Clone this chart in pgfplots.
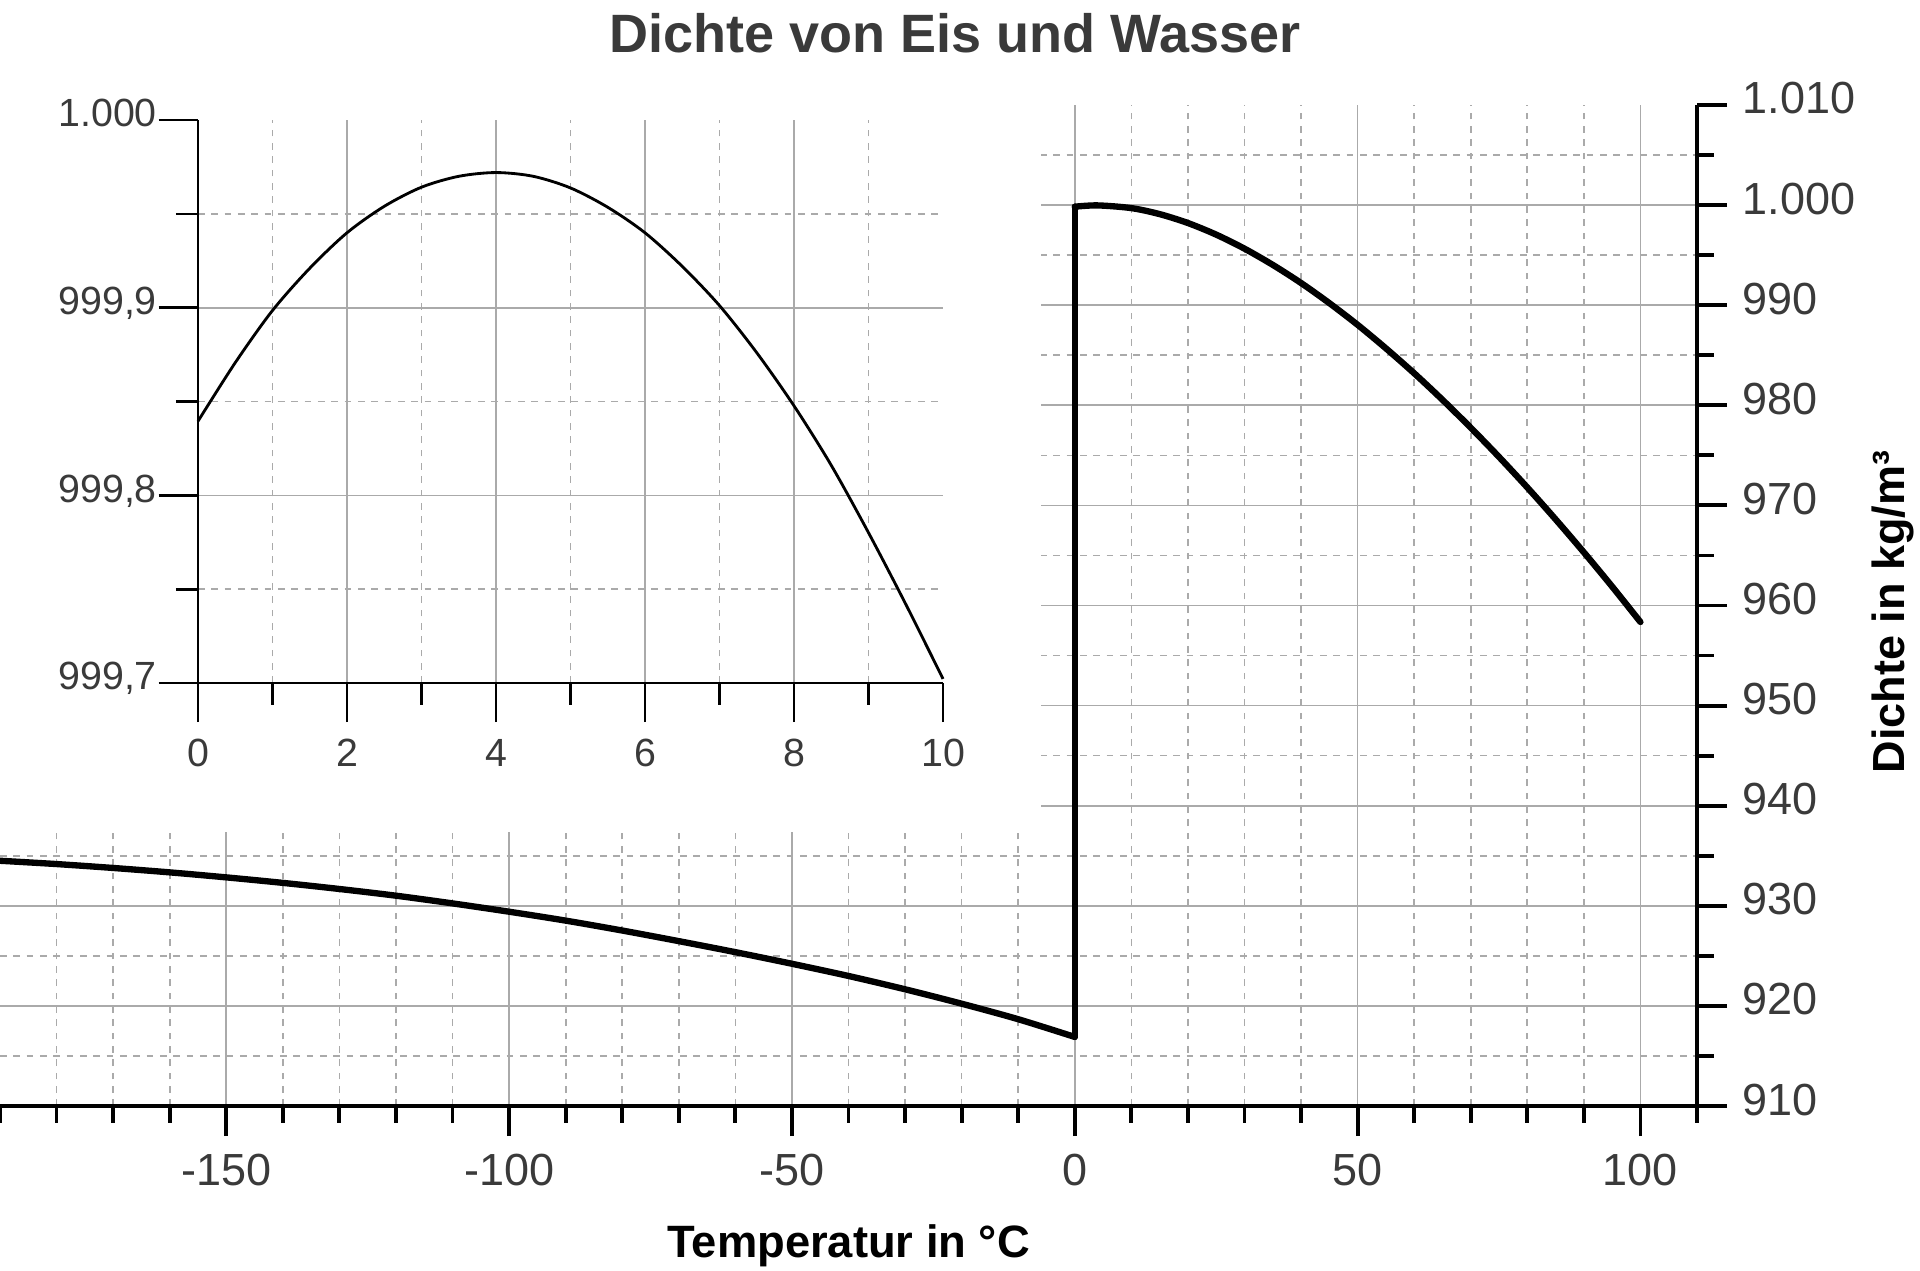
\documentclass[border=0pt]{standalone}
\usepackage{pgfplots}
\pgfplotsset{compat=1.18}
\usepackage{fontspec}
\setmainfont{Liberation Sans}
\definecolor{lbl}{HTML}{3A3A3A}
\definecolor{grd}{HTML}{AAAAAA}
\pgfplotsset{
 gridonly/.style={
  axis x line*=bottom, axis y line*=left,
  axis line style={draw=none}, tick style={draw=none},
  major tick length=0pt, minor tick length=0pt,
  xticklabels={}, yticklabels={},
  grid=both,
  major grid style={grd, line width=0.5pt},
  minor grid style={grd, line width=0.5pt, dash pattern=on 2pt off 2pt},
 }
}
\begin{document}
\begin{tikzpicture}
\path[use as bounding box] (0,0) rectangle (576pt,381pt);
% main grid
\begin{axis}[
 at={(0pt,49.2pt)}, anchor=south west,
 scale only axis, width=509.1pt, height=300.3pt,
 xmin=-190, xmax=110, ymin=910, ymax=1010,
 gridonly,
 xtick={-150,-100,-50,0,50,100},
 minor xtick={-180,-170,-160,-140,-130,-120,-110,-90,-80,-70,-60,-40,-30,-20,-10,10,20,30,40,60,70,80,90},
 ytick={920,930,940,950,960,970,980,990,1000},
 minor ytick={915,925,935,945,955,965,975,985,995,1005},
]
\fill[white] (axis cs:-191,937.4) rectangle (axis cs:-6,1011);
\end{axis}
% main axis
\begin{axis}[
 at={(0pt,49.2pt)}, anchor=south west,
 scale only axis, width=509.1pt, height=300.3pt,
 xmin=-190, xmax=110, ymin=910, ymax=1010,
 axis x line=bottom, axis y line=right,
 axis line style={-, line width=1.15pt, black},
 tick align=outside,
 major tick length=9pt, minor tick length=5pt,
 tick style={line width=1.15pt, black},
 xtick={-150,-100,-50,0,50,100},
 xticklabels={-150,-100,-50,0,50,100},
 minor xtick={-190,-180,-170,-160,-140,-130,-120,-110,-90,-80,-70,-60,-40,-30,-20,-10,10,20,30,40,60,70,80,90,110},
 ytick={910,920,930,940,950,960,970,980,990,1000,1010},
 yticklabels={910,920,930,940,950,960,970,980,990,1.000,1.010},
 minor ytick={915,925,935,945,955,965,975,985,995,1005},
 xticklabel style={font=\fontsize{13.5}{16}\selectfont, text=lbl, anchor=base, yshift=-14.7pt},
 yticklabel style={font=\fontsize{13.5}{16}\selectfont, text=lbl, anchor=base west, xshift=1.2pt, yshift=-2.7pt},
 clip=false,
]
\addplot[black, line width=1.9pt, smooth, line cap=round] coordinates {
(-190,934.50) (-180,934.17) (-170,933.78) (-160,933.34) (-150,932.84) (-140,932.29)
(-130,931.68) (-120,931.01) (-110,930.24) (-100,929.41) (-90,928.52) (-80,927.53)
(-70,926.47) (-60,925.37) (-50,924.21) (-40,922.99) (-30,921.66) (-20,920.22)
(-10,918.67) (0,916.90)
};
\addplot[black, line width=1.9pt, line cap=round] coordinates {(0,916.9) (0,999.84)};
\addplot[black, line width=1.9pt, smooth, line cap=round] coordinates {
(0,999.84) (4,999.97) (10,999.70) (15,999.10) (20,998.21) (25,997.05) (30,995.65)
(35,994.03) (40,992.22) (45,990.21) (50,988.04) (55,985.69) (60,983.20) (65,980.55)
(70,977.76) (75,974.84) (80,971.79) (85,968.61) (90,965.31) (95,961.89) (100,958.35)
};
\end{axis}
% inset grid
\begin{axis}[
 at={(59.4pt,176.1pt)}, anchor=south west,
 scale only axis, width=223.5pt, height=168.9pt,
 xmin=0, xmax=10, ymin=999.7, ymax=1000,
 gridonly,
 xtick={2,4,6,8}, minor xtick={1,3,5,7,9},
 ytick={999.8,999.9}, minor ytick={999.75,999.85,999.95},
]
\end{axis}
% inset axis
\begin{axis}[
 at={(59.4pt,176.1pt)}, anchor=south west,
 scale only axis, width=223.5pt, height=168.9pt,
 xmin=0, xmax=10, ymin=999.7, ymax=1000,
 axis x line=bottom, axis y line=left,
 axis line style={-, line width=0.8pt, black},
 tick align=outside,
 major tick length=11.8pt, minor tick length=6.6pt,
 tick style={line width=0.8pt, black},
 xtick={0,2,4,6,8,10}, xticklabels={0,2,4,6,8,10},
 minor xtick={1,3,5,7,9},
 ytick={999.7,999.8,999.9,1000}, yticklabels={{999,7},{999,8},{999,9},{1.000}},
 minor ytick={999.75,999.85,999.95},
 xticklabel style={font=\fontsize{11.8}{14}\selectfont, text=lbl, anchor=base, yshift=-13.2pt},
 yticklabel style={font=\fontsize{11.8}{14}\selectfont, text=lbl, anchor=base east, xshift=3pt, yshift=-2pt},
 clip=false,
]
\addplot[black, line width=0.85pt, smooth] coordinates {
(0,999.8395) (0.5,999.8707) (1,999.8985) (1.5,999.9210) (2,999.9399) (2.5,999.9540)
(3,999.9642) (3.5,999.9700) (4,999.9720) (4.5,999.9700) (5,999.9638) (5.5,999.9535)
(6,999.9399) (6.5,999.9220) (7,999.9011) (7.5,999.8760) (8,999.8477) (8.5,999.8160)
(9,999.7801) (9.5,999.7420) (10,999.7022)
};
\end{axis}
\node[font=\bfseries\fontsize{16.2}{19}\selectfont, text=lbl] at (286.5pt,371.1pt) {Dichte von Eis und Wasser};
\node[font=\bfseries\fontsize{13.6}{16}\selectfont] at (254.6pt,7.2pt) {Temperatur in °C};
\node[rotate=90, font=\bfseries\fontsize{13.5}{16}\selectfont] at (567.9pt,197.4pt) {Dichte in kg/m³};
\end{tikzpicture}
\end{document}
